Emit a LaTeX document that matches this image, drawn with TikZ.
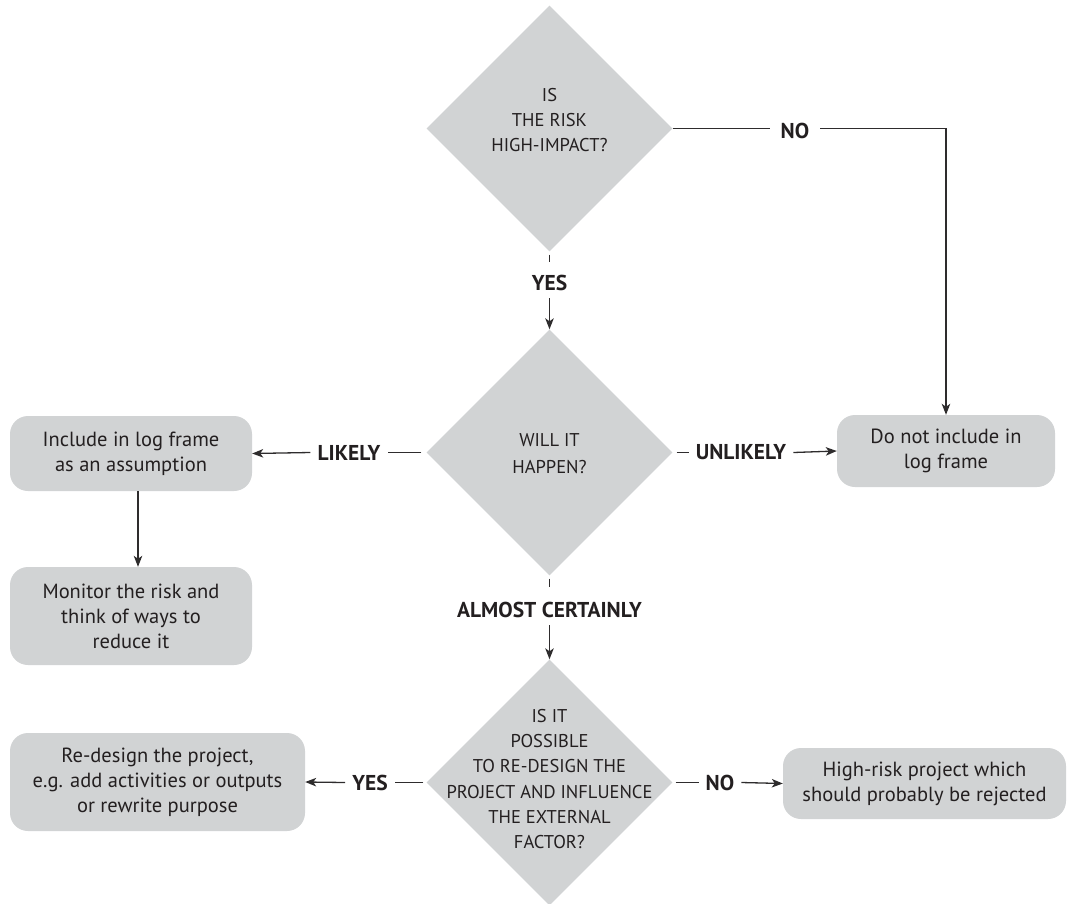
\documentclass[tikz,border=0pt]{standalone}
\usepackage{fontspec}
\setmainfont{PT Sans}
\usetikzlibrary{shapes.geometric,arrows.meta}

\definecolor{boxgrey}{HTML}{D1D3D4}
\definecolor{ink}{HTML}{231F20}
\definecolor{wire}{HTML}{2E2C2D}

\tikzset{
  decision/.style={shape=diamond, fill=boxgrey, inner sep=0pt,
    minimum width=246pt, minimum height=246pt},
  qtext/.style={align=center, text=ink, inner sep=0pt,
    font=\fontsize{18.5}{25.2}\selectfont},
  actionbox/.style={rectangle, rounded corners=18pt, fill=boxgrey,
    align=center, text=ink, inner sep=0pt,
    font=\fontsize{20.5}{25}\selectfont},
  answer/.style={text=ink, inner xsep=7pt, inner ysep=7pt,
    font=\bfseries\fontsize{21.5}{24}\selectfont},
  link/.style={draw=wire, line width=1.3pt},
  arrowlink/.style={link, -{Stealth[length=11pt,width=8.5pt,inset=3pt]}},
}

\begin{document}
\begin{tikzpicture}[x=1pt,y=-1pt]
\useasboundingbox (0,0) rectangle (1069,903);

% decisions
\node[decision] (q1) at (549.5,128.5) {};
\node[qtext] (q1t) at (549.5,120) {IS\\THE RISK\\HIGH-IMPACT?};
\node[decision] (q2) at (549.5,452.5) {};
\node[qtext, font=\fontsize{18.5}{27}\selectfont] (q2t) at (549.5,453.5) {WILL IT\\HAPPEN?};
\node[decision] (q3) at (549.5,782.5) {};
\node[qtext] (q3t) at (549.5,779) {IS IT\\POSSIBLE\\TO RE-DESIGN THE\\PROJECT AND INFLUENCE\\THE EXTERNAL\\FACTOR?};

% outcomes
\node[actionbox, minimum width=242pt, minimum height=75pt] (inc) at (131,453.5)
  {Include in log frame\\as an assumption};
\node[actionbox, minimum width=242pt, minimum height=98pt] (mon) at (131,616)
  {Monitor the risk and\\think of ways to\\reduce it};
\node[actionbox, minimum width=218pt, minimum height=72pt] (dni) at (946,451)
  {Do not include in\\log frame};
\node[actionbox, minimum width=295pt, minimum height=98pt] (red) at (157.5,782)
  {Re-design the project,\\e.g. add activities or outputs\\or rewrite purpose};
\node[actionbox, minimum width=283pt, minimum height=71pt] (hr) at (924.5,783.5)
  {High-risk project which\\should probably be rejected};

% answers
\node[answer, inner xsep=11pt] (no1) at (795,131) {NO};
\node[answer] (yes1) at (549.5,283) {YES};
\node[answer] (likely) at (349,452.5) {LIKELY};
\node[answer] (unlikely) at (741,452.5) {UNLIKELY};
\node[answer] (almost) at (549.5,610) {ALMOST CERTAINLY};
\node[answer] (yes2) at (370,782.5) {YES};
\node[answer] (no2) at (720,782.5) {NO};

% connectors
\draw[link] (q1.east) -- (q1.east -| no1.west);
\draw[arrowlink] (q1.east -| no1.east) -- (q1.east -| dni.north) -- (dni.north);
\draw[link, shorten <=3pt, shorten >=6pt] (q1.south) -- (yes1.north);
\draw[arrowlink] (yes1.south) -- (q2.north);

\draw[link, shorten <=5pt] (q2.west) -- (likely.east);
\draw[arrowlink] (likely.west) -- (inc.east);
\draw[link, shorten <=4pt] (q2.east) -- (unlikely.west);
\draw[arrowlink] (unlikely.east) -- (dni.west);
\draw[arrowlink] ([xshift=7pt]inc.south) -- ([xshift=7pt]mon.north);
\draw[link, shorten <=3pt, shorten >=8pt] (q2.south) -- (almost.north);
\draw[arrowlink] (almost.south) -- (q3.north);

\draw[link, shorten <=3pt] (q3.west) -- (yes2.east);
\draw[arrowlink] (yes2.west) -- (red.east);
\draw[link, shorten <=3pt] (q3.east) -- (no2.west);
\draw[arrowlink] (no2.east) -- (hr.west);
\end{tikzpicture}
\end{document}
